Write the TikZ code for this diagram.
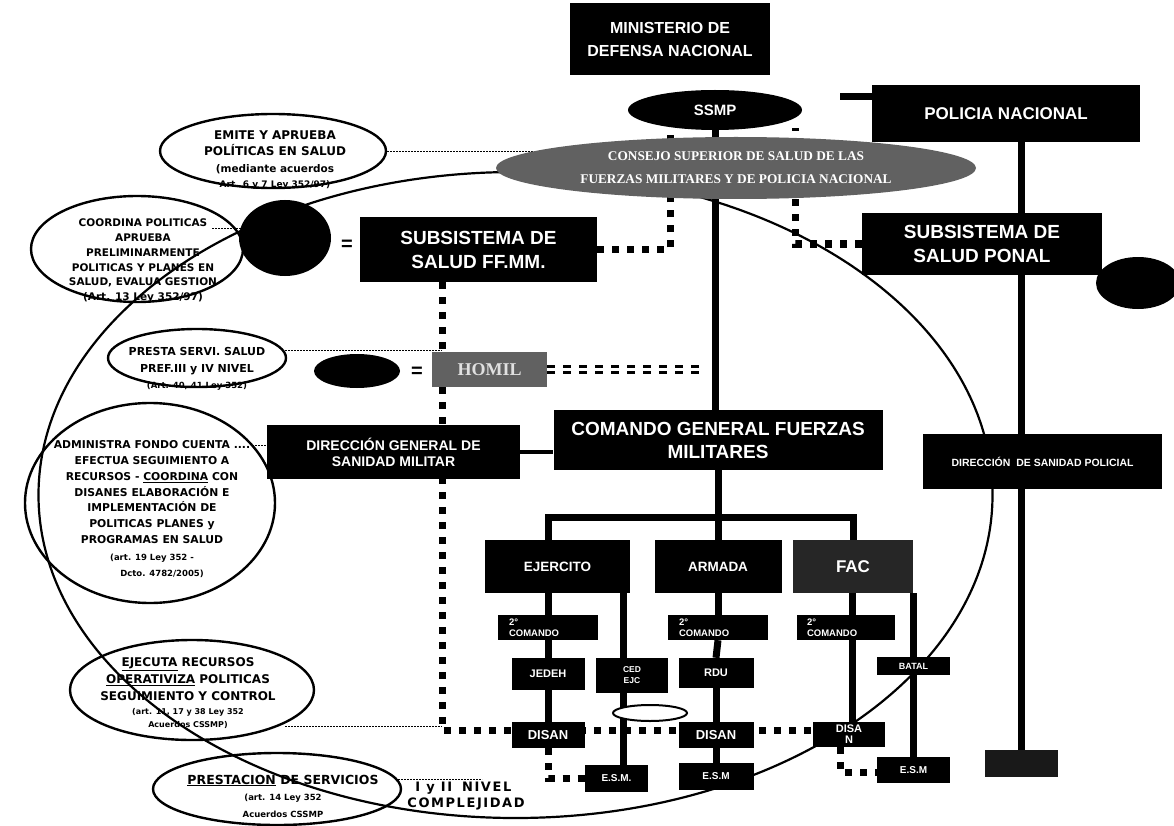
\documentclass[tikz,border=0pt]{standalone}
\usepackage{fontspec}
\setmainfont{Liberation Sans}
\newfontfamily\callfont{DejaVu Sans}
\newfontfamily\callfontw{DejaVu Sans}[LetterSpace=12]
\newfontfamily\serffont{Liberation Serif}
\usetikzlibrary{shapes.geometric}
\pgfdeclarelayer{calls}
\pgfdeclarelayer{back}
\pgfsetlayers{calls,back,main}
\newcommand{\fsz}[2]{\fontsize{#1}{#2}\selectfont}
\begin{document}
\begin{tikzpicture}[x=1pt,y=-1pt,
  sz/.style 2 args={minimum width=#1pt, minimum height=#2pt},
  bbox/.style={rectangle, fill=black, text=white, inner sep=0pt, align=center, font=\bfseries},
  blob/.style={ellipse, fill=black, inner sep=0pt},
  call/.style={ellipse, draw=black, line width=2.4pt, fill=white, inner sep=0pt},
  calltext/.style={inner sep=0pt, align=center, text=black},
  sqd/.style={line width=7pt, dash pattern=on 7pt off 8pt},
  lead/.style={line width=0.9pt, dash pattern=on 1.6pt off 1.4pt},
  conn/.style={line width=7pt},
  bigcurve/.style={line width=2.2pt},
  eqsign/.style={inner sep=0pt, font=\bfseries\fsz{20}{20}},
]
\useasboundingbox (0,0) rectangle (1174,826);

% ---------- callouts (lowest layer) ----------
\begin{pgfonlayer}{calls}
\fill[white] (0,0) rectangle (1174,826);
\node[call, sz={226}{74}] (emite) at (273,151) {};
\node[calltext, font=\callfont\bfseries\fsz{12}{16.5}] (emitet) at (275,160) {EMITE Y APRUEBA\\POLÍTICAS EN SALUD\\{\fsz{10.5}{16}(mediante acuerdos}\\[-1.5pt]{\fsz{9}{12}Art. 6 y 7 Ley 352/97)}};

\node[call, sz={212}{106}] (coord) at (137,249) {};
\node[calltext, font=\callfont\bfseries\fsz{10.5}{14.8}] (coordt) at (143,261) {COORDINA POLITICAS\\APRUEBA\\PRELIMINARMENTE\\POLITICAS Y PLANES EN\\SALUD, EVALUA GESTION\\(Art. 13 Ley 352/97)};

\node[call, sz={178}{58}] (presta) at (197,358) {};
\node[calltext, font=\callfont\bfseries\fsz{11}{16.5}] (prestat) at (197,369) {PRESTA SERVI. SALUD\\PREF.III y IV NIVEL\\{\fsz{8.5}{10}(Art. 40, 41 Ley 352)}};

\node[call, sz={250}{200}] (admin) at (150,503) {};
\node[calltext, font=\callfont\bfseries\fsz{10.8}{15.9}] (admint) at (152,509) {ADMINISTRA FONDO CUENTA ....\\EFECTUA SEGUIMIENTO A\\RECURSOS - \underline{COORDINA} CON\\DISANES ELABORACIÓN E\\IMPLEMENTACIÓN DE\\POLITICAS PLANES y\\PROGRAMAS EN SALUD\\[1pt]{\fsz{8.5}{16}(art. 19 Ley 352 -}\\{\fsz{8.5}{10}\hspace{20pt}Dcto. 4782/2005)}};

\node[call, sz={244}{100}] (ejec) at (192,690) {};
\node[calltext, font=\callfont\bfseries\fsz{12}{17}] (eject) at (188,693) {\underline{EJECUTA} RECURSOS\\[0.5pt]\underline{OPERATIVIZA} POLITICAS\\SEGUIMIENTO Y CONTROL\\[-3pt]{\fsz{8}{13}(art. 11, 17 y 38 Ley 352}\\[-4pt]{\fsz{8}{10}Acuerdos CSSMP)}};

\node[call, sz={248}{72}] (prest) at (277,789) {};
\node[calltext, font=\callfont\bfseries\fsz{12.5}{16.5}] (prestt) at (283,796) {\underline{PRESTACION} DE SERVICIOS\\{\fsz{8.5}{16}(art. 14 Ley 352}\\{\fsz{8.5}{10}Acuerdos CSSMP}};

\node[calltext, align=left, font=\callfontw\bfseries\fsz{13}{16}] (niv) at (466,796) {\hspace{8pt}I y II\hspace{10pt}NIVEL\\COMPLEJIDAD};
\end{pgfonlayer}

% ---------- boxes (main layer) ----------
\node[bbox, sz={200}{72}, font=\bfseries\fsz{16}{23}] (min) at (670,39) {MINISTERIO DE\\DEFENSA NACIONAL};
\node[bbox, sz={268}{57}, font=\bfseries\fsz{17}{20}] (pol) at (1006,113.5) {POLICIA NACIONAL};
\node[blob, sz={174}{40}, text=white, font=\bfseries\fsz{15}{18}] (ssmp) at (715,110) {SSMP};
\node[ellipse, fill=black!62, inner sep=0pt, sz={480}{62}, text=white, align=center, font=\serffont\bfseries\fsz{13.3}{23}] (csj) at (736,168) {CONSEJO SUPERIOR DE SALUD DE LAS\\FUERZAS MILITARES Y DE POLICIA NACIONAL};
\node[bbox, sz={237}{65}, font=\bfseries\fsz{19}{24}] (ffmm) at (478.5,249.5) {SUBSISTEMA DE\\SALUD FF.MM.};
\node[bbox, sz={240}{62}, font=\bfseries\fsz{19}{24}] (ponal) at (982,244) {SUBSISTEMA DE\\SALUD PONAL};
\node[blob, sz={92}{76}] (blobA) at (285,238) {};
\node[blob, sz={84}{52}] (blobB) at (1138,283) {};
\node[blob, sz={86}{34}] (blobC) at (357,371) {};
\node[eqsign] (eqA) at (347,245) {=};
\node[eqsign] (eqB) at (417,372) {=};
\node[rectangle, fill=black!62, inner sep=0pt, sz={115}{35}, text=black!12, font=\serffont\bfseries\fsz{18}{20}] (homil) at (489.5,369.5) {HOMIL};
\node[bbox, sz={253}{54}, font=\bfseries\fsz{14}{16}] (dgsm) at (393.5,452) {DIRECCIÓN GENERAL DE\\SANIDAD MILITAR};
\node[bbox, sz={329}{60}, font=\bfseries\fsz{19}{23}] (cgfm) at (718,440) {COMANDO GENERAL FUERZAS\\MILITARES};
\node[bbox, sz={239}{55}, font=\bfseries\fsz{10.5}{12}] (dsp) at (1042.5,461.5) {DIRECCIÓN\ \ DE SANIDAD POLICIAL};
\node[bbox, sz={145}{53}, font=\bfseries\fsz{13.5}{15}] (ejc) at (557.5,566.5) {EJERCITO};
\node[bbox, sz={127}{53}, font=\bfseries\fsz{13.5}{15}] (arm) at (718,566.5) {ARMADA};
\node[bbox, fill=black!85, sz={120}{53}, font=\bfseries\fsz{17}{19}] (fac) at (853,566.5) {FAC};
\node[bbox, sz={100}{25}, font=\bfseries\fsz{9.5}{11}, align=left, text width=78pt] (c2e) at (548,627.5) {2°\\COMANDO};
\node[bbox, sz={100}{25}, font=\bfseries\fsz{9.5}{11}, align=left, text width=78pt] (c2a) at (718,627.5) {2°\\COMANDO};
\node[bbox, sz={98}{25}, font=\bfseries\fsz{9.5}{11}, align=left, text width=78pt] (c2f) at (846,627.5) {2°\\COMANDO};
\node[bbox, sz={73}{32}, font=\bfseries\fsz{11}{13}] (jedeh) at (548,674) {JEDEH};
\node[bbox, sz={72}{35}, font=\bfseries\fsz{8.5}{11}] (ced) at (632,675.5) {CED\\EJC};
\node[bbox, sz={75}{30}, font=\bfseries\fsz{11}{13}] (rdu) at (716,673) {RDU};
\node[bbox, sz={73}{18}, font=\bfseries\fsz{9}{10}] (batal) at (913.5,666) {BATAL};
\node[bbox, sz={73}{26}, font=\bfseries\fsz{13}{15}] (disane) at (548,735) {DISAN};
\node[bbox, sz={75}{26}, font=\bfseries\fsz{13}{15}] (disana) at (716,735) {DISAN};
\node[bbox, sz={72}{25}, font=\bfseries\fsz{11}{11}] (disanf) at (849,734.5) {DISA\\N};
\node[ellipse, draw=black, line width=2pt, fill=white, inner sep=0pt, sz={74}{16}] (hm) at (650,713) {};
\node[bbox, sz={63}{27}, font=\bfseries\fsz{10}{12}] (esme) at (616.5,778.5) {E.S.M.};
\node[bbox, sz={75}{27}, font=\bfseries\fsz{10}{12}] (esma) at (716,776.5) {E.S.M};
\node[bbox, sz={73}{26}, font=\bfseries\fsz{10}{12}] (esmf) at (913.5,770) {E.S.M};
\node[bbox, fill=black!90, sz={73}{27}] (endb) at (1021,763.5) {};

% ---------- connectors (back layer) ----------
\begin{pgfonlayer}{back}
\draw[bigcurve] (515.5,495) ellipse [x radius=477pt, y radius=323pt];
% thin dotted leaders
\coordinate (dv) at (442,730);
\draw[lead] (emite.east) -- (emite.east -| csj.center);
\coordinate (lc) at (212,228);
\draw[lead] (lc) -- (lc -| blobA.center);
\coordinate (lp) at (282,350);
\draw[lead] (lp) -- (lp -| dv);
\coordinate (la) at (252,445);
\draw[lead] (la) -- (la -| dgsm.west);
\coordinate (lj) at (285,726);
\draw[lead] (lj) -- (lj -| dv);
\coordinate (ln) at (398,779);
\coordinate (ln2) at (482,779);
\draw[lead] (ln) -- (ln2);
% square-dotted links
\coordinate (dl) at (670,128);
\coordinate (dr) at (795,128);
\draw[sqd] (ffmm.east) -- (ffmm.east -| dl) -- (dl);
\draw[sqd] (ponal.west) -- (ponal.west -| dr) -- (dr);
\draw[sqd] (ffmm.south -| dv) -- (dv) -- (dv -| disanf.west);
\draw[sqd] (disane.south) -- (disane.south |- esme.west) -- (esme.west);
\coordinate (df) at (840,772);
\draw[sqd] (disanf.south -| df) -- (df) -- (df -| esmf.west);
% double dashes
\coordinate (hr) at (705,369.5);
\draw[line width=2.5pt, dash pattern=on 8pt off 8pt] ([yshift=3pt]homil.east) -- ([yshift=3pt]hr);
\draw[line width=2.5pt, dash pattern=on 8pt off 8pt] ([yshift=-3pt]homil.east) -- ([yshift=-3pt]hr);
% solid links
\coordinate (pst) at (840,97);
\draw[conn] (pst) -- (pst -| pol.west);
\draw[conn] (ssmp.south) -- (ssmp.south |- cgfm.north);
\draw[conn] (endb.north |- pol.south) -- (endb.north);
\draw[conn, line width=4pt] (dgsm.east) -- (dgsm.east -| cgfm.west);
\coordinate (bl) at (548,517);
\coordinate (br) at (853,517);
\draw[conn] (cgfm.south) -- (arm.north);
\draw[conn] (bl |- ejc.north) -- (bl) -- (br) -- (br |- fac.north);
\draw[conn] (c2e.north |- ejc.south) -- (c2e.north);
\draw[conn] (c2e.south) -- (jedeh.north);
\draw[conn] (jedeh.south) -- (disane.north);
\coordinate (cx) at (623,600);
\draw[conn] (cx |- ejc.south) -- (cx |- ced.north);
\draw[conn] (cx |- ced.south) -- (cx |- esme.north);
\draw[conn] (arm.south) -- (c2a.north);
\draw[conn] (c2a.south) -- (rdu.north);
\draw[conn] (rdu.south) -- (disana.north);
\draw[conn] (disana.south) -- (esma.north);
\coordinate (fx) at (852,600);
\draw[conn] (fx |- fac.south) -- (fx |- c2f.north);
\draw[conn] (fx |- c2f.south) -- (fx |- disanf.north);
\draw[conn] (esmf.north |- fac.south) -- (esmf.north);
\end{pgfonlayer}
\end{tikzpicture}
\end{document}
